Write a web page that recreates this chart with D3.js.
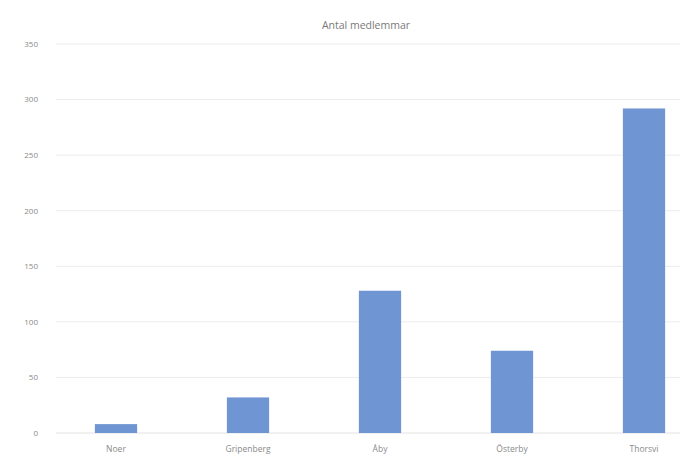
<!DOCTYPE html>
<meta http-equiv="Content-type" content="text/html; charset=UTF-8"/>
<style>
  body { margin: 0; background: #fff; }
  * { font-family: 'Open Sans', 'Liberation Sans', sans-serif; }
</style>
<svg width="680" height="456"></svg>
<script src="https://d3js.org/d3.v7.min.js"></script>
<script>
var categories = ["Noer", "Gripenberg", "Åby", "Österby", "Thorsvi"];
var members = [8, 32, 128, 74, 292];
var yTicks = [0, 50, 100, 150, 200, 250, 300, 350];

var svg = d3.select("svg"),
    top_ = 44, bottom = 433, left = 50, right = 710;

var x = d3.scaleBand()
    .domain(categories)
    .range([left, right])
    .paddingInner(0.68)
    .paddingOuter(0.34);

var y = d3.scaleLinear()
    .domain([0, 350])
    .range([bottom, top_]);

// gridlines
svg.append("g")
  .selectAll("line")
  .data(yTicks)
  .enter().append("line")
    .attr("x1", 56)
    .attr("x2", 680)
    .attr("y1", function(d) { return y(d); })
    .attr("y2", function(d) { return y(d); })
    .attr("stroke", function(d) { return d === 0 ? "#e2e2e2" : "#ececec"; })
    .attr("stroke-width", 1);

// y labels
svg.append("g")
  .selectAll("text")
  .data(yTicks)
  .enter().append("text")
    .attr("x", 38)
    .attr("y", function(d) { return y(d); })
    .attr("dy", "0.35em")
    .attr("text-anchor", "end")
    .attr("fill", "#8a8a8a")
    .style("font-size", "8px")
    .text(function(d) { return d; });

// bars
svg.append("g")
  .selectAll("rect")
  .data(members)
  .enter().append("rect")
    .attr("x", function(d, i) { return x(categories[i]); })
    .attr("width", x.bandwidth())
    .attr("y", function(d) { return y(d); })
    .attr("height", function(d) { return y(0) - y(d); })
    .attr("fill", "#6f95d2");

// x labels
svg.append("g")
  .selectAll("text")
  .data(categories)
  .enter().append("text")
    .attr("x", function(d) { return x(d) + x.bandwidth() / 2; })
    .attr("y", 452)
    .attr("text-anchor", "middle")
    .attr("fill", "#8a8a8a")
    .style("font-size", "8.5px")
    .text(function(d) { return d; });

svg.append("text")
    .attr("x", 366)
    .attr("y", 29)
    .attr("text-anchor", "middle")
    .attr("fill", "#7a7a7a")
    .style("font-size", "10.5px")
    .text("Antal medlemmar");
</script>
